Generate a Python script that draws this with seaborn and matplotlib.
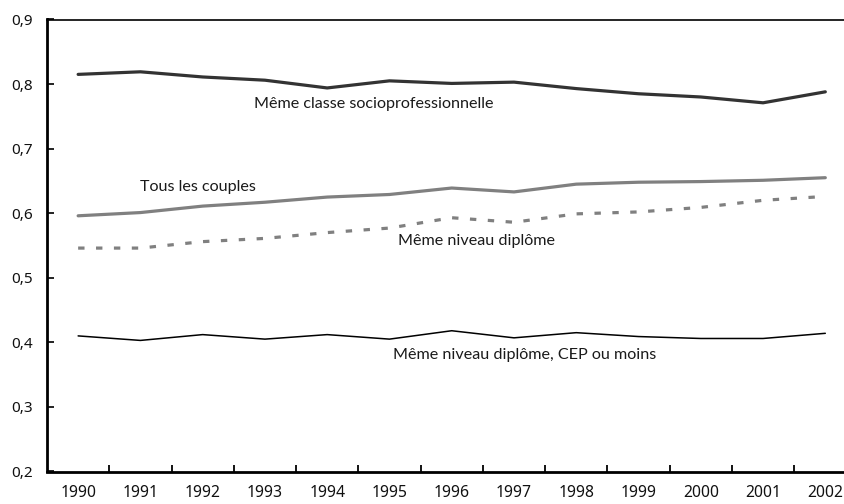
import matplotlib
matplotlib.use("Agg")
import matplotlib.pyplot as plt
import seaborn as sns
import pandas as pd
import numpy as np

years = [str(y) for y in range(1990, 2003)]
meme_classe = [0.815, 0.819, 0.811, 0.806, 0.794, 0.805, 0.801, 0.803, 0.793, 0.785, 0.780, 0.771, 0.788]
tous_couples = [0.596, 0.601, 0.611, 0.617, 0.625, 0.629, 0.639, 0.633, 0.645, 0.648, 0.649, 0.651, 0.655]
meme_diplome = [0.546, 0.546, 0.556, 0.561, 0.570, 0.577, 0.593, 0.586, 0.599, 0.602, 0.609, 0.620, 0.626]
meme_diplome_cep = [0.410, 0.403, 0.412, 0.405, 0.412, 0.405, 0.418, 0.407, 0.415, 0.409, 0.406, 0.406, 0.414]

labels = ["Même classe socioprofessionnelle", "Tous les couples",
          "Même niveau diplôme", "Même niveau diplôme, CEP ou moins"]
y_ticks = [0.2, 0.3, 0.4, 0.5, 0.6, 0.7, 0.8, 0.9]
y_ticklabels = ["0,2", "0,3", "0,4", "0,5", "0,6", "0,7", "0,8", "0,9"]

sns.set_theme(style="white")
plt.rcParams['font.family'] = ['Noto Sans', 'DejaVu Sans']

fig = plt.figure(figsize=(8.44, 5.04), dpi=100)
ax = fig.add_axes([47 / 844, 1 - 471.5 / 504, 1 - 47 / 844, (471.5 - 19.5) / 504])

df = pd.DataFrame({"annee": years, "classe": meme_classe, "tous": tous_couples,
                   "diplome": meme_diplome, "cep": meme_diplome_cep})

sns.lineplot(data=df, x="annee", y="classe", ax=ax, color="#333333", lw=2.3, sort=False)
sns.lineplot(data=df, x="annee", y="tous", ax=ax, color="#808080", lw=2.3, sort=False)
sns.lineplot(data=df, x="annee", y="diplome", ax=ax, color="#808080", lw=2.3, sort=False)
ax.lines[-1].set_dashes((2.0, 3.6))
sns.lineplot(data=df, x="annee", y="cep", ax=ax, color="#000000", lw=1.1, sort=False)

ax.set_xlim(-0.5, (844 - 77.7) / 62.3)
ax.set_ylim(0.2, 0.9)
ax.set_xlabel("")
ax.set_ylabel("")

ax.set_xticks(range(len(years)))
ax.set_xticklabels(years)
ax.set_xticks(np.arange(0.5, len(years) - 1, 1.0), minor=True)
ax.tick_params(axis="x", which="major", length=0, pad=10, labelsize=11.3, colors="#111111")
ax.tick_params(axis="x", which="minor", length=5, width=1.3, direction="in", color="black", bottom=True)

ax.set_yticks(y_ticks)
ax.set_yticklabels(y_ticklabels)
ax.tick_params(axis="y", which="major", length=5, width=1.3, direction="in", pad=10,
               labelsize=11, colors="#111111", left=True)

for s in ["left", "bottom"]:
    ax.spines[s].set_color("black")
    ax.spines[s].set_linewidth(2.0)
ax.spines["top"].set_color("black")
ax.spines["top"].set_linewidth(1.2)
ax.spines["right"].set_visible(False)

tfont = dict(family=["Lato", "DejaVu Sans"], fontsize=11.6, color="#1a1a1a", va="center", ha="left")
ax.text(2.83, 0.769, labels[0], **tfont)
ax.text(1.0, 0.641, labels[1], **tfont)
ax.text(5.13, 0.557, labels[2], **tfont)
ax.text(5.06, 0.380, labels[3], **tfont)

fig.savefig("out.png", dpi=100)
